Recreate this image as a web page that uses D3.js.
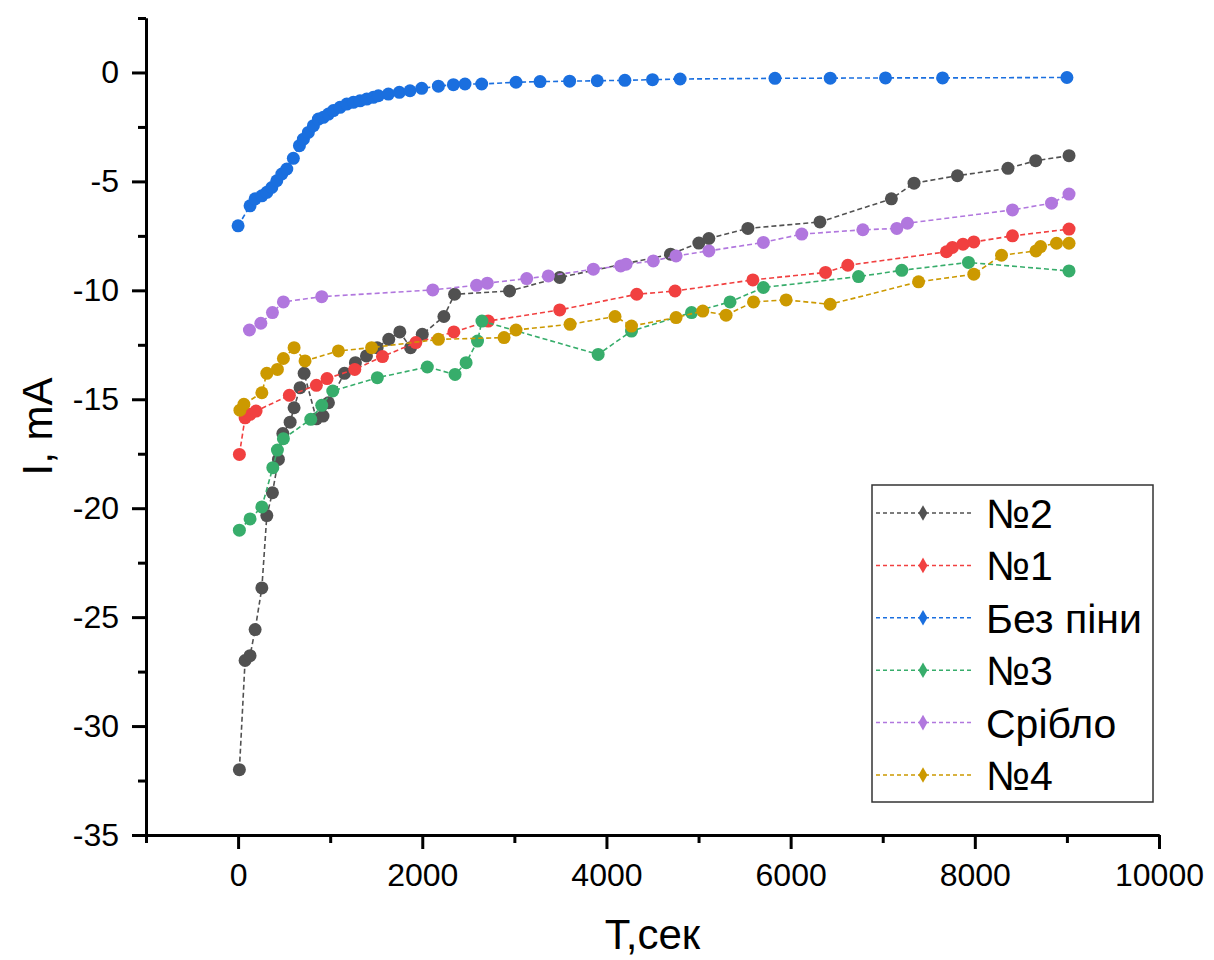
<!DOCTYPE html>
<meta charset="utf-8">
<style>
body { margin: 0; background: #fff; }
svg { font-family: "Liberation Sans", Arial, sans-serif; }
.axis path, .axis line { stroke: #000; stroke-width: 3px; }
.axis text { font-size: 32px; fill: #000; }
</style>
<svg width="1214" height="960"></svg>
<script src="https://d3js.org/d3.v7.min.js"></script>
<script>
// data (T in seconds, I in mA)
var names = ["№2", "№1", "Без піни", "№3", "Срібло", "№4"];
var colors = ["#515151", "#F14040", "#1A6FDF", "#37AD6B", "#B177DE", "#CC9900"];

var t_n2 = [14, 76, 130, 185, 258, 312, 373, 438, 486, 565, 608, 673, 717, 850, 922, 981, 1155, 1274, 1394, 1510, 1636, 1756, 1873, 2000, 2235, 2351, 2948, 3492, 4696, 5003, 5112, 5536, 6318, 7094, 7340, 7811, 8360, 8661, 9023];
var i_n2 = [-32.0, -26.99, -26.77, -25.57, -23.66, -20.34, -19.29, -17.76, -16.57, -16.05, -15.39, -14.47, -13.81, -15.9, -15.77, -15.16, -13.81, -13.32, -13.01, -12.63, -12.25, -11.91, -12.63, -12.02, -11.2, -10.18, -10.03, -9.41, -8.34, -7.83, -7.62, -7.16, -6.86, -5.8, -5.08, -4.74, -4.4, -4.05, -3.82];

var t_n1 = [14, 76, 130, 195, 557, 850, 966, 1267, 1568, 1930, 2343, 2716, 3492, 4329, 4745, 5590, 6379, 6621, 7692, 7757, 7872, 7989, 8409, 9023];
var i_n1 = [-17.53, -15.85, -15.69, -15.54, -14.82, -14.36, -14.05, -13.63, -13.04, -12.4, -11.91, -11.41, -10.9, -10.18, -10.03, -9.52, -9.18, -8.85, -8.23, -8.03, -7.88, -7.78, -7.5, -7.19];

var t_bez = [0, 130, 185, 258, 312, 366, 420, 475, 529, 600, 666, 709, 763, 818, 872, 926, 981, 1035, 1107, 1180, 1252, 1324, 1397, 1469, 1523, 1632, 1751, 1867, 1994, 2175, 2338, 2464, 2645, 3018, 3279, 3600, 3900, 4200, 4500, 4800, 5830, 6430, 7030, 7650, 9000];
var i_bez = [-7.04, -6.12, -5.8, -5.66, -5.5, -5.28, -4.97, -4.66, -4.43, -3.94, -3.36, -3.06, -2.75, -2.44, -2.14, -2.06, -1.91, -1.75, -1.6, -1.45, -1.37, -1.3, -1.22, -1.14, -1.07, -0.99, -0.91, -0.84, -0.73, -0.63, -0.56, -0.53, -0.53, -0.45, -0.42, -0.4, -0.38, -0.36, -0.33, -0.3, -0.27, -0.26, -0.25, -0.25, -0.23];

var t_n3 = [14, 130, 258, 377, 427, 492, 789, 908, 1028, 1512, 2055, 2356, 2476, 2600, 2648, 3910, 4272, 4924, 5342, 5704, 6737, 7207, 7931, 9023];
var i_n3 = [-21.01, -20.49, -19.94, -18.14, -17.33, -16.81, -15.92, -15.28, -14.62, -14.01, -13.52, -13.86, -13.32, -12.33, -11.41, -12.94, -11.87, -11.02, -10.53, -9.87, -9.37, -9.08, -8.72, -9.11];

var t_sr = [123, 247, 373, 492, 908, 2114, 2590, 2706, 3134, 3369, 3858, 4155, 4213, 4509, 4756, 5112, 5704, 6121, 6784, 7153, 7268, 8409, 8833, 9023];
var i_sr = [-11.82, -11.51, -11.02, -10.53, -10.29, -9.98, -9.77, -9.67, -9.46, -9.34, -9.03, -8.88, -8.8, -8.65, -8.42, -8.19, -7.8, -7.42, -7.22, -7.16, -6.92, -6.31, -6.0, -5.58];

var t_n4 = [20, 63, 258, 312, 427, 492, 608, 727, 1089, 1450, 2175, 2888, 3018, 3605, 4093, 4272, 4756, 5046, 5299, 5597, 5951, 6429, 7389, 7989, 8290, 8664, 8714, 8887, 9023];
var i_n4 = [-15.5, -15.23, -14.7, -13.81, -13.63, -13.13, -12.63, -13.24, -12.78, -12.63, -12.25, -12.17, -11.82, -11.56, -11.2, -11.64, -11.25, -10.95, -11.14, -10.53, -10.44, -10.64, -9.61, -9.26, -8.39, -8.19, -7.99, -7.84, -7.84];

var xMajor = [0, 2000, 4000, 6000, 8000, 10000];
var xMinor = [-1000, 1000, 3000, 5000, 7000, 9000];
var yMajor = [0, -5, -10, -15, -20, -25, -30, -35];
var yMinor = [2.5, -2.5, -7.5, -12.5, -17.5, -22.5, -27.5, -32.5];

var series = [
  {t: t_n2, i: i_n2}, {t: t_n1, i: i_n1}, {t: t_bez, i: i_bez},
  {t: t_n3, i: i_n3}, {t: t_sr, i: i_sr}, {t: t_n4, i: i_n4}
];

var svg = d3.select("svg");
var pLeft = 146, pRight = 1159, pTop = 18, pBottom = 835;

var x = d3.scaleLinear().domain([-1000, 10000]).range([pLeft, pRight]);
var y = d3.scaleLinear().domain([-35, 2.5]).range([pBottom, pTop]);

// axes: minor ticks first, then major with labels
svg.append("g").attr("class", "axis").attr("transform", "translate(0," + pBottom + ")")
  .call(d3.axisBottom(x).tickValues(xMinor).tickSize(8).tickSizeOuter(0).tickFormat(""));
svg.append("g").attr("class", "axis").attr("transform", "translate(0," + pBottom + ")")
  .call(d3.axisBottom(x).tickValues(xMajor).tickSize(14).tickSizeOuter(0).tickPadding(14).tickFormat(d3.format("d")));
svg.append("g").attr("class", "axis").attr("transform", "translate(" + pLeft + ",0)")
  .call(d3.axisLeft(y).tickValues(yMinor).tickSize(8).tickSizeOuter(0).tickFormat(""));
svg.append("g").attr("class", "axis").attr("transform", "translate(" + pLeft + ",0)")
  .call(d3.axisLeft(y).tickValues(yMajor).tickSize(14).tickSizeOuter(0).tickPadding(13)
    .tickFormat(function(d) { return d < 0 ? "-" + Math.abs(d) : d; }));

// axis titles
svg.append("text").attr("x", (pLeft + pRight) / 2).attr("y", 949)
  .attr("text-anchor", "middle").style("font-size", "42px").text("T,сек");
svg.append("text").attr("transform", "translate(52," + (pTop + pBottom) / 2 + ") rotate(-90)")
  .attr("text-anchor", "middle").style("font-size", "42px").text("I, mA");

var line = d3.line().x(function(d) { return x(d[0]); }).y(function(d) { return y(d[1]); });

series.forEach(function(s, k) {
  var pts = s.t.map(function(t, j) { return [t, s.i[j]]; });
  var g = svg.append("g");
  g.append("path").datum(pts).attr("d", line)
    .attr("fill", "none").attr("stroke", colors[k]).attr("stroke-width", 1.6)
    .attr("stroke-dasharray", "5,3");
  g.selectAll("circle").data(pts).enter().append("circle")
    .attr("cx", function(d) { return x(d[0]); })
    .attr("cy", function(d) { return y(d[1]); })
    .attr("r", 6.5).attr("fill", colors[k]);
});

// legend
var lg = svg.append("g");
lg.append("rect").attr("x", 872).attr("y", 485).attr("width", 281).attr("height", 317)
  .attr("fill", "#fff").attr("stroke", "#333").attr("stroke-width", 1.5);
var diamond = d3.symbol().type(d3.symbolDiamond).size(70);
names.forEach(function(n, k) {
  var cy = 513 + k * 52.4;
  lg.append("line").attr("x1", 876).attr("x2", 973).attr("y1", cy).attr("y2", cy)
    .attr("stroke", colors[k]).attr("stroke-width", 1.5).attr("stroke-dasharray", "4,3");
  lg.append("path").attr("d", diamond).attr("transform", "translate(923," + cy + ")")
    .attr("fill", colors[k]);
  lg.append("text").attr("x", 986).attr("y", cy + 15).style("font-size", "41px").text(n);
});
</script>
